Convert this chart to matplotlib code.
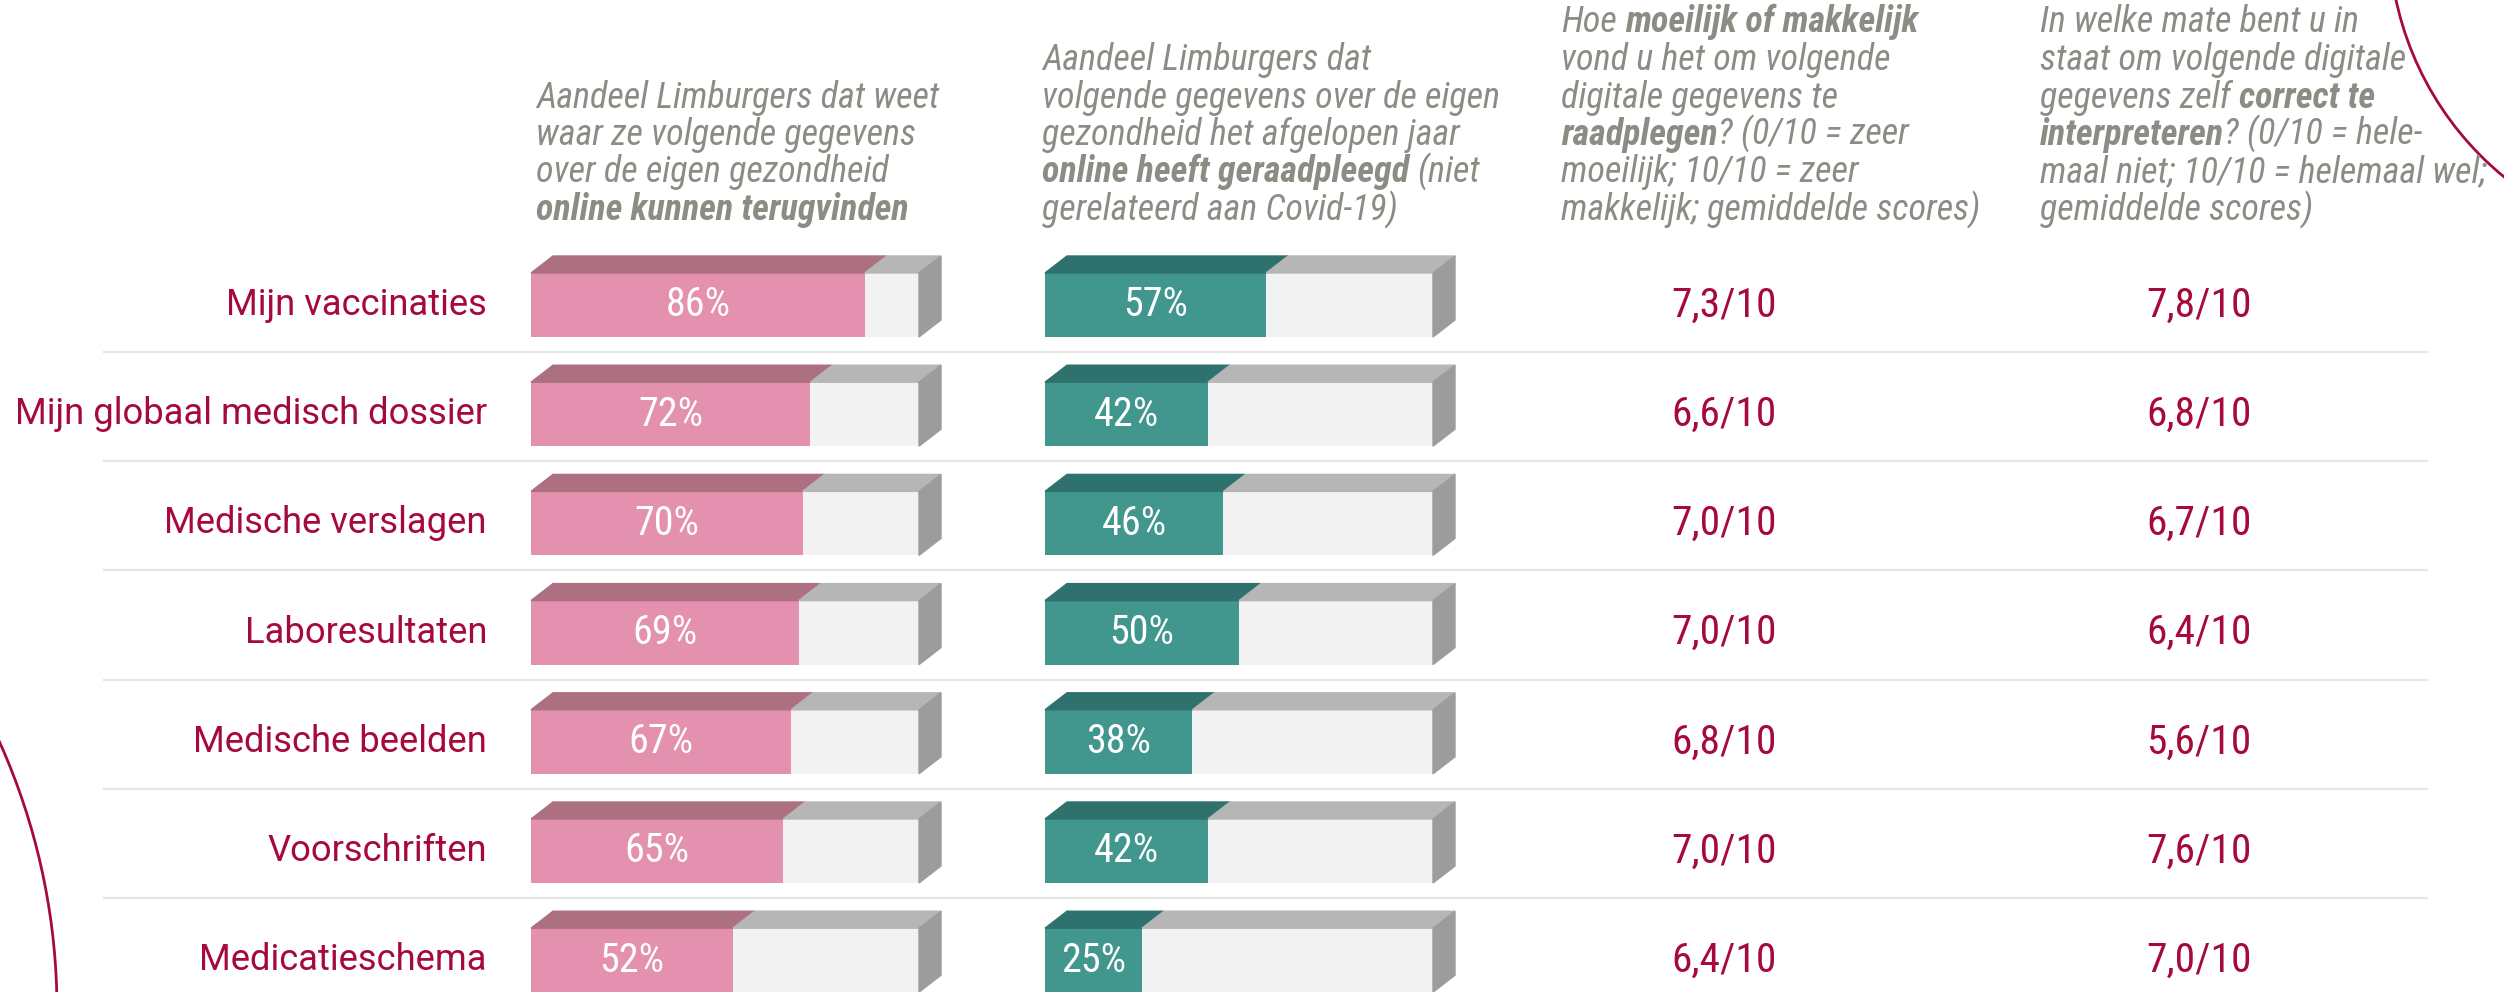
import matplotlib
matplotlib.use('Agg')
import matplotlib.pyplot as plt
from matplotlib import font_manager
from matplotlib.patches import Polygon, Circle

categories = ['Mijn vaccinaties', 'Mijn globaal medisch dossier', 'Medische verslagen',
              'Laboresultaten', 'Medische beelden', 'Voorschriften', 'Medicatieschema']
weet_online = [86, 72, 70, 69, 67, 65, 52]
geraadpleegd = [57, 42, 46, 50, 38, 42, 25]
score_raadplegen = [7.3, 6.6, 7.0, 7.0, 6.8, 7.0, 6.4]
score_interpreteren = [7.8, 6.8, 6.7, 6.4, 5.6, 7.6, 7.0]

# header texts, **...** = bold
header1 = ['Aandeel Limburgers dat weet',
           'waar ze volgende gegevens',
           'over de eigen gezondheid',
           '**online kunnen terugvinden**']
header2 = ['Aandeel Limburgers dat',
           'volgende gegevens over de eigen',
           'gezondheid het afgelopen jaar',
           '**online heeft geraadpleegd** (niet',
           'gerelateerd aan Covid-19)']
header3 = ['Hoe **moeilijk of makkelijk**',
           'vond u het om volgende',
           'digitale gegevens te',
           '**raadplegen**? (0/10 = zeer',
           'moeilijk; 10/10 = zeer',
           'makkelijk; gemiddelde scores)']
header4 = ['In welke mate bent u in',
           'staat om volgende digitale',
           'gegevens zelf **correct te**',
           '**interpreteren**? (0/10 = hele-',
           'maal niet; 10/10 = helemaal wel;',
           'gemiddelde scores)']

RED = '#a50a3a'
GREY = '#8d8c84'
W, H = 2504, 992

# look for a condensed sans for the headers and numbers, else plain Roboto
LABEL = dict(family='Roboto')
COND = dict(family='Roboto')
for pref in ['Noto Sans', 'Roboto', 'Open Sans', 'Liberation Sans']:
    hits = [f for f in font_manager.fontManager.ttflist
            if f.name.startswith(pref) and 'Mono' not in f.name and 'CJK' not in f.name
            and (f.stretch in ('condensed', 'semi-condensed')
                 or 'Condensed' in f.name or 'Narrow' in f.name)
            and 'Extra' not in f.name and 'Semi' not in f.name]
    if hits:
        COND = dict(family=hits[0].name, fontstretch=hits[0].stretch)
        break

fig = plt.figure(figsize=(W / 100, H / 100), dpi=100)
ax = fig.add_axes([0, 0, 1, 1])
ax.set_xlim(0, W)
ax.set_ylim(H, 0)
ax.axis('off')
renderer = fig.canvas.get_renderer()


def width_of(s, size=20, **kw):
    t = ax.text(0, 0, s, fontsize=size, **kw)
    w = t.get_window_extent(renderer).width
    t.remove()
    return w


def fit(s, target, **kw):
    return 20 * target / width_of(s, **kw)


label_fs = fit('Mijn globaal medisch dossier', 472, **LABEL)
score_fs = fit('7,3/10', 105, **COND)
pct_fs = fit('86%', 65, **COND)
head_fs = fit('Aandeel Limburgers dat weet', 403, fontstyle='italic', **COND)
space_w = (width_of('a a', head_fs, fontstyle='italic', **COND)
           - width_of('aa', head_fs, fontstyle='italic', **COND))

n = len(categories)
row_y = [305 + i * 109.2 for i in range(n)]
bar_h = 64
dx = 22 / 388 * 100
dy = 17

# row labels, separators and scores
for i, (cat, y) in enumerate(zip(categories, row_y)):
    ax.text(487, y, cat, ha='right', va='center', fontsize=label_fs, color=RED, **LABEL)
    ax.text(1724, y, f'{score_raadplegen[i]:.1f}'.replace('.', ',') + '/10',
            ha='center', va='center', fontsize=score_fs, color=RED, **COND)
    ax.text(2199, y, f'{score_interpreteren[i]:.1f}'.replace('.', ',') + '/10',
            ha='center', va='center', fontsize=score_fs, color=RED, **COND)
    if i < n - 1:
        ax.plot([104, 2427], [y + 47, y + 47], color='#e6e6e6', lw=1.6)


def draw_bars(left, values, front, top):
    a = fig.add_axes([left / W, 0, 388 / W, 1], sharey=ax)
    a.set_xlim(0, 100)
    a.axis('off')
    a.barh(row_y, values, height=bar_h, color=front)
    a.barh(row_y, [100 - v for v in values], left=values, height=bar_h, color='#f2f2f2')
    for y, v in zip(row_y, values):
        t = y - bar_h / 2
        a.add_patch(Polygon([(0, t), (v, t), (v + dx, t - dy), (dx, t - dy)],
                            color=top, clip_on=False))
        a.add_patch(Polygon([(v, t), (100, t), (100 + dx, t - dy), (v + dx, t - dy)],
                            color='#b6b6b6', clip_on=False))
        a.add_patch(Polygon([(100, t), (100 + dx, t - dy), (100 + dx, t + bar_h - dy),
                             (100, t + bar_h)], color='#9c9c9c', clip_on=False))
        a.text(v / 2, y, f'{v}%', ha='center', va='center', fontsize=pct_fs,
               color='white', **COND)


draw_bars(531, weet_online, '#e391ae', '#ad7080')
draw_bars(1045, geraadpleegd, '#41968e', '#2f716c')


def rich_line(x, y, line):
    for k, part in enumerate(line.split('**')):
        if not part:
            continue
        lead = len(part) - len(part.lstrip(' '))
        trail = len(part) - len(part.rstrip(' '))
        x += lead * space_w
        t = ax.text(x, y, part.strip(' '), fontsize=head_fs, fontstyle='italic',
                    fontweight='bold' if k % 2 else 'normal',
                    color=GREY, ha='left', va='baseline', **COND)
        x += t.get_window_extent(renderer).width + trail * space_w


line_step = 37.5
for hx, lines in [(536, header1), (1042, header2), (1561, header3), (2040, header4)]:
    base = 220 - (len(lines) - 1) * line_step
    for j, line in enumerate(lines):
        rich_line(hx, base + j * line_step, line)

# decorative arcs
ax.add_patch(Circle((-597, 1010), 654, fill=False, ec=RED, lw=2))
ax.add_patch(Circle((2703, -66), 314, fill=False, ec=RED, lw=2))

fig.savefig('out.png', dpi=100)
